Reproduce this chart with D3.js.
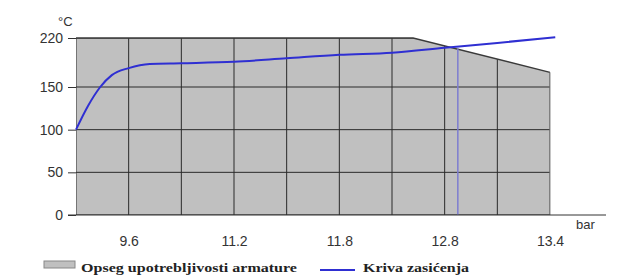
<!DOCTYPE html>
<html>
<head>
<meta charset="utf-8">
<script src="https://cdn.jsdelivr.net/npm/d3@7"></script>
<style>
  html, body { margin: 0; padding: 0; background: #ffffff; }
  svg { display: block; }
</style>
</head>
<body>
<svg id="chart" width="619" height="277"></svg>
<script>
// ---- data ----
const xPositions = [0, 1, 2, 3, 4, 5, 6, 7, 8, 9];
const xTickLabels = ["", "9.6", "", "11.2", "", "11.8", "", "12.8", "", "13.4"];
const yTicks = [0, 50, 100, 150, 220];

// usable range of the fitting (shaded area), upper boundary
const regionX = [0, 6.4, 9];
const regionY = [220, 220, 171];

// saturation curve
const curveX = [0, 0.23, 0.46, 0.68, 1.0, 1.4, 2, 3, 4, 5, 6, 7, 8, 9.1];
const curveY = [100, 128, 150, 167, 177, 183, 184, 186, 191, 196, 199, 206, 213, 221];

// vertical marker at intersection
const markerX = 7.25;
const markerY = 205;

const legendLabels = ["Opseg upotrebljivosti armature", "Kriva zasićenja"];
const yUnit = "°C";
const xUnit = "bar";

// ---- drawing ----
const svg = d3.select("#chart");
const x = d3.scaleLinear().domain([0, 9]).range([76, 550]);
const y = d3.scaleLinear().domain([0, 150, 220]).range([215, 87, 38]);

const fillGrey = "#c0c0c0";
const blue = "#2f2fd2";
const sans = "'Liberation Sans', Arial, sans-serif";

// shaded area
const regionPts = [[regionX[0], 0]].concat(regionX.map((d, i) => [d, regionY[i]])).concat([[regionX[regionX.length - 1], 0]]);
const polyLine = d3.line().x(d => x(d[0])).y(d => y(d[1]));

svg.append("defs").append("clipPath").attr("id", "regionClip")
  .append("path").attr("d", polyLine(regionPts) + "Z");

svg.append("path")
  .attr("d", polyLine(regionPts) + "Z")
  .attr("fill", fillGrey)
  .attr("stroke", "none");

const grid = svg.append("g").attr("clip-path", "url(#regionClip)");
grid.selectAll("line.v").data(xPositions).enter().append("line")
  .attr("x1", d => x(d)).attr("x2", d => x(d))
  .attr("y1", y(220) - 5).attr("y2", y(0))
  .attr("stroke", "#2a2a2a").attr("stroke-width", 1);
grid.selectAll("line.h").data(yTicks).enter().append("line")
  .attr("x1", x(0)).attr("x2", x(9))
  .attr("y1", d => y(d)).attr("y2", d => y(d))
  .attr("stroke", "#2a2a2a").attr("stroke-width", 1);

// outline of top edge
svg.append("path")
  .attr("d", polyLine(regionX.map((d, i) => [d, regionY[i]])))
  .attr("fill", "none").attr("stroke", "#3a3a3a").attr("stroke-width", 1.3);
svg.append("line")
  .attr("x1", x(9)).attr("x2", x(9))
  .attr("y1", y(regionY[regionY.length - 1])).attr("y2", y(0))
  .attr("stroke", "#8a8a8a").attr("stroke-width", 1);

// marker line
svg.append("line")
  .attr("x1", x(markerX)).attr("x2", x(markerX))
  .attr("y1", y(markerY)).attr("y2", y(0))
  .attr("stroke", "#7d7dd0").attr("stroke-width", 1.5);

// y axis ticks and labels
const yAxis = d3.axisLeft(y).tickValues(yTicks).tickSize(8).tickPadding(5);
const gy = svg.append("g").attr("transform", `translate(${x(0)},0)`).call(yAxis);
gy.select(".domain").remove();
gy.selectAll(".tick line").attr("stroke", "#333");
gy.selectAll(".tick text").attr("fill", "#333")
  .style("font-family", sans).style("font-size", "14px");

// x axis
const xAxis = d3.axisBottom(x).tickValues(xPositions).tickSize(0).tickPadding(21)
  .tickFormat((d, i) => xTickLabels[i]);
const gx = svg.append("g").attr("transform", `translate(0,${y(0)})`).call(xAxis);
gx.select(".domain").remove();
gx.selectAll(".tick text").attr("fill", "#333")
  .style("font-family", sans).style("font-size", "14px");
svg.append("line")
  .attr("x1", 68).attr("x2", 606)
  .attr("y1", y(0)).attr("y2", y(0))
  .attr("stroke", "#333").attr("stroke-width", 1);

// curve
const curveLine = d3.line().x((d, i) => x(curveX[i])).y(d => y(d)).curve(d3.curveMonotoneX);
svg.append("path")
  .attr("d", curveLine(curveY))
  .attr("fill", "none").attr("stroke", blue).attr("stroke-width", 2);

// units
svg.append("text").attr("x", 58).attr("y", 26).text(yUnit)
  .attr("fill", "#333").style("font-family", sans).style("font-size", "13px");
svg.append("text").attr("x", 576).attr("y", 229).text(xUnit)
  .attr("fill", "#333").style("font-family", sans).style("font-size", "13px");

// legend
const lg = svg.append("g");
lg.append("rect").attr("x", 44).attr("y", 261).attr("width", 31).attr("height", 7)
  .attr("fill", fillGrey).attr("stroke", "#888").attr("stroke-width", 1);
lg.append("text").attr("x", 81).attr("y", 272).text(legendLabels[0])
  .attr("textLength", 216).attr("lengthAdjust", "spacingAndGlyphs")
  .attr("fill", "#222").style("font-family", "'Liberation Serif', 'Times New Roman', serif")
  .style("font-weight", "bold").style("font-size", "12px");
lg.append("line").attr("x1", 320).attr("x2", 355).attr("y1", 270).attr("y2", 270)
  .attr("stroke", blue).attr("stroke-width", 2);
lg.append("text").attr("x", 363).attr("y", 272).text(legendLabels[1])
  .attr("textLength", 106).attr("lengthAdjust", "spacingAndGlyphs")
  .attr("fill", "#222").style("font-family", "'Liberation Serif', 'Times New Roman', serif")
  .style("font-weight", "bold").style("font-size", "12px");
</script>
</body>
</html>
